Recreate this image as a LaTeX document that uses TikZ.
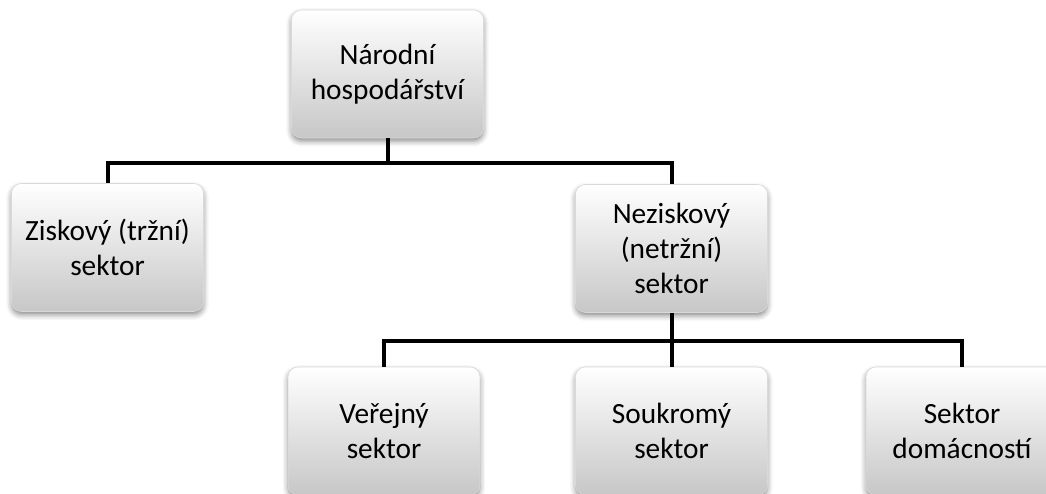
\documentclass[tikz,border=0pt]{standalone}
\usepackage{fontspec}
\setmainfont{Carlito}
\usetikzlibrary{positioning,shadows.blur}
\tikzset{
  sector/.style={
    rectangle, rounded corners=7.5pt,
    minimum width=144pt, minimum height=96pt,
    top color=white, bottom color=black!22,
    draw=black!15,
    blur shadow={shadow xshift=0pt, shadow yshift=-2.5pt, shadow blur radius=4pt, shadow opacity=45},
    align=center, font=\fontsize{22pt}{26.5pt}\selectfont
  },
  branch/.style={line width=3pt, black}
}

\begin{document}
\begin{tikzpicture}[x=0.75pt,y=-0.75pt]
\newcommand{\wpic}{1046}
\newcommand{\hpic}{493}

\useasboundingbox (0,0) rectangle (\wpic,\hpic);
\clip (0,0) rectangle (\wpic,\hpic);

\node [sector] (nh) at (387.5,74) {Národní\\hospodářství};
\node [sector] (zisk) at (107.5,247.5) {Ziskový (tržní)\\sektor};
\node [sector] (nezisk) at (671.5,248.5) {Neziskový\\(netržní)\\sektor};
\node [sector] (verej) at (384,431) {Veřejný\\sektor};
\node [sector] (soukr) at (671.5,431) {Soukromý\\sektor};
\node [sector] (domac) at (962,431) {Sektor\\domácností};

\coordinate (top) at (nh.south |- 0,163);
\coordinate (low) at (nezisk.south |- 0,341);

\draw [branch] (nh.south) -- (top);
\draw [branch] (zisk.north) |- (top) -| (nezisk.north);
\draw [branch] (nezisk.south) -- (soukr.north);
\draw [branch] (verej.north) |- (low) -| (domac.north);
\end{tikzpicture}
\end{document}
